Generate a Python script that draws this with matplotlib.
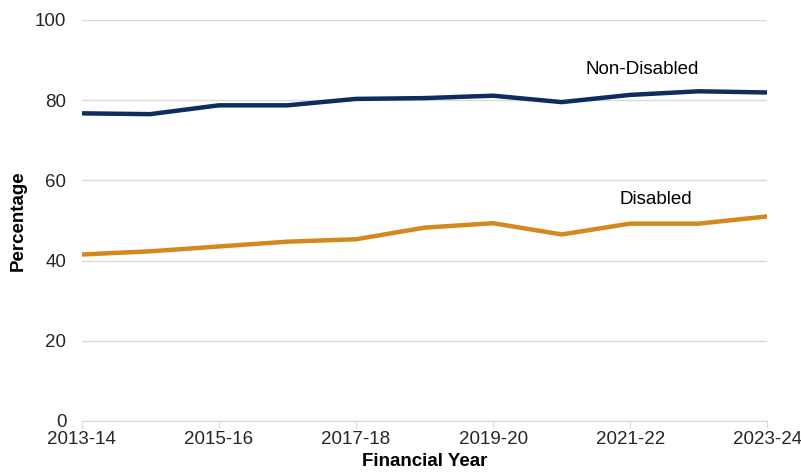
import matplotlib
matplotlib.use("Agg")
import matplotlib.pyplot as plt

# percentage by financial year
years = ["2013-14", "2014-15", "2015-16", "2016-17", "2017-18", "2018-19",
         "2019-20", "2020-21", "2021-22", "2022-23", "2023-24"]
non_disabled = [76.7, 76.5, 78.7, 78.7, 80.3, 80.5, 81.1, 79.5, 81.3, 82.2, 81.9]
disabled = [41.5, 42.3, 43.5, 44.7, 45.3, 48.2, 49.3, 46.5, 49.2, 49.2, 51.0]

plt.rcParams['font.family'] = ['Liberation Sans', 'DejaVu Sans']

fig = plt.figure(figsize=(8.01, 4.74), dpi=100)
ax = fig.add_axes([0.102, 0.112, 0.856, 0.846])

x = list(range(len(years)))
ax.plot(x, non_disabled, color='#0c2d5e', lw=3.2, solid_capstyle='butt')
ax.plot(x, disabled, color='#d4891c', lw=3.2, solid_capstyle='butt')

ax.text(8.18, 87.6, "Non-Disabled", fontsize=13.5, ha='center', va='center')
ax.text(8.37, 55.2, "Disabled", fontsize=13.5, ha='center', va='center')

ax.set_xlim(0, len(years) - 1)
ax.set_ylim(0, 100)
ax.set_yticks(range(0, 101, 20))
ax.set_xticks(x[::2])
ax.set_xticklabels(years[::2])
ax.grid(axis='y', color='#d9d9d9', lw=1)
ax.set_axisbelow(True)
for s in ['top', 'right', 'left']:
    ax.spines[s].set_visible(False)
ax.spines['bottom'].set_color('#d9d9d9')
ax.tick_params(axis='y', length=0, pad=11, labelsize=13.5, labelcolor='#262626')
ax.tick_params(axis='x', length=5, color='#d9d9d9', pad=2, labelsize=13.5, labelcolor='#262626')

ax.set_ylabel("Percentage", fontsize=13.5, fontweight='bold', labelpad=6)
ax.set_xlabel("Financial Year", fontsize=13.5, fontweight='bold', labelpad=4)

fig.savefig("out.png", dpi=100)
